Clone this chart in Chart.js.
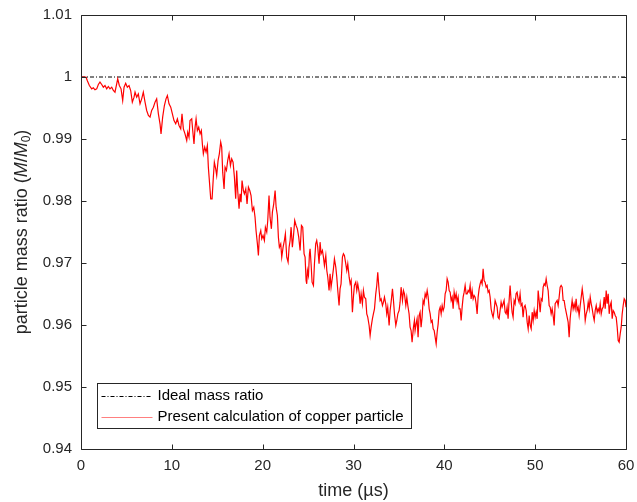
<!DOCTYPE html>
<html>
<head>
<meta charset="utf-8">
<script src="https://cdn.jsdelivr.net/npm/chart.js@4.4.1/dist/chart.umd.min.js"></script>
<style>
  html, body { margin: 0; padding: 0; background: #fff; }
  #wrap { width: 637px; height: 502px; }
</style>
</head>
<body>
<div id="wrap"><canvas id="massChart" width="637" height="502"></canvas></div>
<script>
// time (us) and particle mass ratio M/M0
var timeUs = [
  0, 0.55, 0.70, 0.92, 1.18, 1.36, 1.54, 1.73, 1.91, 2.09,
  2.28, 2.46, 2.64, 2.83, 3.01, 3.19, 3.38, 3.56, 3.74, 3.93,
  4.04, 4.22, 4.41, 4.59, 4.74, 4.92, 5.10, 5.29, 5.47, 5.65,
  5.84, 5.95, 6.13, 6.31, 6.50, 6.68, 6.86, 7.05, 7.23, 7.42,
  7.60, 7.78, 7.97, 8.15, 8.33, 8.52, 8.70, 8.81, 8.99, 9.18,
  9.36, 9.51, 9.69, 9.88, 10.06, 10.24, 10.43, 10.61, 10.79, 10.98,
  11.12, 11.27, 11.45, 11.64, 11.75, 11.89, 12.00, 12.19, 12.30, 12.44,
  12.56, 12.67, 12.81, 12.96, 13.11, 13.25, 13.36, 13.47, 13.62, 13.77,
  13.91, 14.02, 14.13, 14.28, 14.43, 14.57, 14.68, 14.83, 14.94, 15.09,
  15.23, 15.38, 15.49, 15.60, 15.75, 15.86, 16.01, 16.15, 16.30, 16.45,
  16.59, 16.74, 16.89, 17.03, 17.14, 17.25, 17.40, 17.51, 17.62, 17.73,
  17.88, 17.99, 18.14, 18.28, 18.43, 18.58, 18.72, 18.87, 19.02, 19.16,
  19.27, 19.42, 19.53, 19.64, 19.79, 19.90, 20.04, 20.19, 20.30, 20.45,
  20.56, 20.70, 20.81, 20.96, 21.07, 21.22, 21.37, 21.48, 21.62, 21.73,
  21.84, 21.99, 22.10, 22.25, 22.39, 22.50, 22.65, 22.80, 22.91, 23.02,
  23.13, 23.27, 23.38, 23.53, 23.68, 23.82, 23.97, 24.12, 24.27, 24.41,
  24.56, 24.67, 24.78, 24.85, 24.93, 25.04, 25.15, 25.22, 25.33, 25.44,
  25.59, 25.70, 25.84, 25.95, 26.06, 26.21, 26.32, 26.43, 26.58, 26.69,
  26.80, 26.95, 27.06, 27.17, 27.31, 27.42, 27.53, 27.68, 27.79, 27.90,
  28.05, 28.16, 28.27, 28.41, 28.52, 28.63, 28.78, 28.89, 29.00, 29.15,
  29.26, 29.37, 29.52, 29.63, 29.74, 29.88, 29.99, 30.10, 30.25, 30.36,
  30.47, 30.62, 30.73, 30.84, 30.98, 31.09, 31.20, 31.35, 31.46, 31.57,
  31.72, 31.83, 31.94, 32.08, 32.19, 32.31, 32.45, 32.56, 32.67, 32.82,
  32.93, 33.04, 33.19, 33.30, 33.41, 33.55, 33.66, 33.77, 33.92, 34.03,
  34.14, 34.29, 34.40, 34.51, 34.66, 34.77, 34.88, 35.02, 35.13, 35.24,
  35.39, 35.50, 35.61, 35.76, 35.87, 35.98, 36.12, 36.23, 36.34, 36.45,
  36.60, 36.71, 36.78, 36.89, 37.00, 37.11, 37.22, 37.33, 37.44, 37.55,
  37.66, 37.77, 37.89, 38.00, 38.11, 38.22, 38.33, 38.44, 38.55, 38.66,
  38.77, 38.88, 38.99, 39.10, 39.21, 39.32, 39.43, 39.54, 39.65, 39.76,
  39.87, 39.98, 40.09, 40.20, 40.31, 40.42, 40.53, 40.64, 40.75, 40.86,
  40.97, 41.08, 41.19, 41.30, 41.41, 41.52, 41.63, 41.74, 41.85, 41.96,
  42.07, 42.18, 42.29, 42.40, 42.51, 42.62, 42.73, 42.84, 42.95, 43.06,
  43.17, 43.28, 43.39, 43.50, 43.61, 43.72, 43.83, 43.94, 44.05, 44.16,
  44.27, 44.38, 44.49, 44.60, 44.71, 44.82, 44.93, 45.04, 45.15, 45.26,
  45.37, 45.48, 45.59, 45.70, 45.81, 45.92, 46.03, 46.14, 46.25, 46.36,
  46.47, 46.58, 46.69, 46.80, 46.91, 47.02, 47.13, 47.24, 47.35, 47.46,
  47.57, 47.68, 47.79, 47.90, 48.01, 48.12, 48.23, 48.34, 48.45, 48.56,
  48.67, 48.78, 48.89, 49.01, 49.12, 49.23, 49.34, 49.45, 49.56, 49.67,
  49.78, 49.89, 50.00, 50.11, 50.22, 50.33, 50.44, 50.55, 50.66, 50.77,
  50.88, 50.99, 51.10, 51.21, 51.32, 51.43, 51.54, 51.65, 51.76, 51.87,
  51.98, 52.09, 52.20, 52.31, 52.42, 52.53, 52.64, 52.75, 52.86, 52.97,
  53.08, 53.19, 53.30, 53.41, 53.52, 53.63, 53.74, 53.85, 53.96, 54.07,
  54.18, 54.29, 54.40, 54.51, 54.62, 54.73, 54.84, 54.96, 55.07, 55.18,
  55.29, 55.40, 55.51, 55.62, 55.73, 55.84, 55.95, 56.06, 56.17, 56.28,
  56.39, 56.50, 56.61, 56.72, 56.83, 56.94, 57.05, 57.16, 57.27, 57.38,
  57.49, 57.60, 57.71, 57.82, 57.93, 58.04, 58.15, 58.26, 58.37, 58.48,
  58.59, 58.70, 58.81, 58.92, 59.03, 59.14, 59.25, 59.36, 59.47, 59.58,
  59.69, 59.80, 59.91, 60.00
];
var massRatio = [
  1.0, 1.0, 0.9994, 0.99863, 0.99809, 0.99825, 0.99793, 0.99809, 0.99879, 0.99917,
  0.99879, 0.99836, 0.99863, 0.99809, 0.99847, 0.99809, 0.99836, 0.99782, 0.99755, 0.9989,
  0.9997, 0.99863, 0.99809, 0.99621, 0.99836, 0.999, 0.99836, 0.99863, 0.99782, 0.99594,
  0.99675, 0.99755, 0.99675, 0.99728, 0.99567, 0.99648, 0.99755, 0.99594, 0.9946, 0.99379,
  0.99352, 0.9946, 0.99513, 0.99594, 0.99648, 0.99406, 0.99245, 0.99083, 0.99352, 0.9954,
  0.99648, 0.99702, 0.99567, 0.99513, 0.99406, 0.99298, 0.99245, 0.99325, 0.99218, 0.99164,
  0.99406, 0.99164, 0.99083, 0.98976, 0.9911, 0.9903, 0.99298, 0.99325, 0.99137, 0.98922,
  0.99191, 0.99325, 0.99137, 0.99191, 0.99083, 0.99137, 0.98922, 0.98761, 0.98868, 0.98788,
  0.98895, 0.98546, 0.98331, 0.98035, 0.98035, 0.98384, 0.98626, 0.98519, 0.98411, 0.98653,
  0.98761, 0.98949, 0.98868, 0.98465, 0.98196, 0.98546, 0.98492, 0.98653, 0.98761, 0.98573,
  0.9868, 0.98626, 0.98384, 0.98035, 0.98492, 0.98169, 0.97874, 0.98116, 0.97981, 0.98331,
  0.98169, 0.98116, 0.98196, 0.97954, 0.98223, 0.98169, 0.98089, 0.97847, 0.979, 0.97739,
  0.97524, 0.97309, 0.97121, 0.97444, 0.97524, 0.9739, 0.97444, 0.97363, 0.97578, 0.97497,
  0.97685, 0.98089, 0.97739, 0.97551, 0.9782, 0.97954, 0.98169, 0.979, 0.97766, 0.97417,
  0.97255, 0.97309, 0.97094, 0.97255, 0.97363, 0.9747, 0.97094, 0.97013, 0.97255, 0.97363,
  0.97578, 0.97255, 0.97417, 0.97685, 0.97605, 0.97551, 0.97417, 0.97202, 0.97605, 0.97578,
  0.97148, 0.97094, 0.96718, 0.96664, 0.96879, 0.96798, 0.97148, 0.97229, 0.96987, 0.96691,
  0.96637, 0.96987, 0.97309, 0.97363, 0.97255, 0.96987, 0.97336, 0.97148, 0.97202, 0.97094,
  0.9696, 0.97121, 0.96879, 0.96771, 0.96556, 0.96825, 0.9661, 0.96771, 0.96906, 0.97067,
  0.96933, 0.96771, 0.96556, 0.96315, 0.96583, 0.96664, 0.97094, 0.97148, 0.97121, 0.96987,
  0.96879, 0.96987, 0.96771, 0.96664, 0.96718, 0.96207, 0.96449, 0.96637, 0.96691, 0.96556,
  0.96664, 0.96529, 0.96342, 0.96503, 0.96342, 0.96556, 0.96449, 0.96422, 0.9618, 0.96126,
  0.95992, 0.95831, 0.95965, 0.961, 0.9618, 0.96261, 0.96503, 0.96637, 0.96852, 0.96556,
  0.96395, 0.96422, 0.96315, 0.96368, 0.96449, 0.96342, 0.9618, 0.96288, 0.95992, 0.96234,
  0.96368, 0.96583, 0.96395, 0.9618, 0.95992, 0.96073, 0.9618, 0.96234, 0.96368, 0.9661,
  0.96395, 0.96556, 0.96503, 0.96315, 0.96449, 0.96315, 0.9618, 0.95965, 0.95911, 0.95723,
  0.95965, 0.96073, 0.95911, 0.96019, 0.961, 0.95804, 0.96153, 0.96207, 0.95965, 0.96126,
  0.96395, 0.96342, 0.96503, 0.96449, 0.96556, 0.96449, 0.96261, 0.9618, 0.96046, 0.96073,
  0.95938, 0.95911, 0.95804, 0.95696, 0.95884, 0.96019, 0.96234, 0.96288, 0.9618, 0.96315,
  0.96234, 0.96288, 0.96503, 0.96556, 0.96745, 0.96691, 0.96556, 0.96529, 0.96395, 0.96449,
  0.96261, 0.96529, 0.96422, 0.96503, 0.96368, 0.96449, 0.96261, 0.96261, 0.96073, 0.96288,
  0.96449, 0.96529, 0.96637, 0.96503, 0.96503, 0.96556, 0.96529, 0.96637, 0.96422, 0.96556,
  0.96422, 0.96476, 0.96449, 0.96342, 0.9618, 0.96449, 0.96583, 0.96664, 0.96718, 0.96664,
  0.96906, 0.96718, 0.96691, 0.9661, 0.96637, 0.96529, 0.96556, 0.96449, 0.96261, 0.9618,
  0.96126, 0.96234, 0.96395, 0.96342, 0.96288, 0.96126, 0.961, 0.96234, 0.96368, 0.96288,
  0.96342, 0.96395, 0.96207, 0.9618, 0.96288, 0.961, 0.96395, 0.96637, 0.96395, 0.96207,
  0.96126, 0.96395, 0.96342, 0.96503, 0.96529, 0.96422, 0.96368, 0.96503, 0.96315, 0.96342,
  0.96126, 0.96288, 0.96315, 0.96234, 0.96046, 0.95938, 0.96153, 0.95992, 0.95938, 0.96207,
  0.96073, 0.96234, 0.96126, 0.96207, 0.961, 0.96556, 0.96395, 0.96207, 0.96422, 0.96395,
  0.9661, 0.96664, 0.96637, 0.96745, 0.96637, 0.96556, 0.96315, 0.96288, 0.9618, 0.96261,
  0.96153, 0.95992, 0.96342, 0.96368, 0.96395, 0.96315, 0.96449, 0.9661, 0.96637, 0.9661,
  0.96395, 0.96395, 0.96288, 0.96207, 0.96126, 0.96046, 0.95804, 0.961, 0.96261, 0.96395,
  0.96261, 0.96342, 0.96261, 0.96422, 0.96234, 0.96288, 0.96153, 0.96315, 0.96449, 0.96583,
  0.96449, 0.96315, 0.96073, 0.9618, 0.96234, 0.96368, 0.96261, 0.96449, 0.96342, 0.96261,
  0.96153, 0.96073, 0.96234, 0.96315, 0.96207, 0.96261, 0.96207, 0.96342, 0.9618, 0.96261,
  0.96288, 0.96449, 0.96261, 0.96556, 0.96342, 0.96503, 0.9618, 0.96315, 0.96368, 0.961,
  0.96234, 0.96207, 0.96153, 0.96126, 0.95965, 0.9575, 0.95723, 0.95858, 0.95965, 0.9618,
  0.96315, 0.96422, 0.96395, 0.96288
];
var idealTime = [0, 60];
var idealRatio = [1, 1];
var xTickValues = [0, 10, 20, 30, 40, 50, 60];
var yTickValues = [0.94, 0.95, 0.96, 0.97, 0.98, 0.99, 1.00, 1.01];
var seriesNames = ['Ideal mass ratio', 'Present calculation of copper particle'];

var FONT = '"Liberation Sans", Arial, Helvetica, sans-serif';
var AXIS_COLOR = '#262626';

function toPoints(xs, ys) {
  var n = Math.min(xs.length, ys.length);
  var pts = [];
  for (var i = 0; i < n; i++) pts.push({x: xs[i], y: ys[i]});
  return pts;
}

/* box round the axes and inward tick marks, matlab style */
var framePlugin = {
  id: 'frame',
  afterDatasetsDraw: function(chart) {
    var ctx = chart.ctx, a = chart.chartArea;
    var xs = chart.scales.x, ys = chart.scales.y;
    var L = Math.round(a.left) + 0.5, R = Math.round(a.right) + 0.5;
    var T = Math.round(a.top) + 0.5, B = Math.round(a.bottom) + 0.5;
    ctx.save();
    ctx.strokeStyle = AXIS_COLOR;
    ctx.lineWidth = 1;
    ctx.beginPath();
    ctx.rect(L, T, R - L, B - T);
    xTickValues.forEach(function(v) {
      var px = Math.round(xs.getPixelForValue(v)) + 0.5;
      ctx.moveTo(px, B); ctx.lineTo(px, B - 5);
      ctx.moveTo(px, T); ctx.lineTo(px, T + 5);
    });
    yTickValues.forEach(function(v) {
      var py = Math.round(ys.getPixelForValue(v)) + 0.5;
      ctx.moveTo(L, py); ctx.lineTo(L + 5, py);
      ctx.moveTo(R, py); ctx.lineTo(R - 5, py);
    });
    ctx.stroke();
    ctx.restore();
  }
};

/* legend box sitting inside the axes, bottom left */
var legendPlugin = {
  id: 'insideLegend',
  afterDraw: function(chart) {
    var ctx = chart.ctx, a = chart.chartArea;
    var bx = Math.round(a.left) + 16.5, by = Math.round(a.bottom) - 65.5;
    var bw = 314, bh = 45;
    ctx.save();
    ctx.fillStyle = '#fff';
    ctx.fillRect(bx, by, bw, bh);
    ctx.strokeStyle = AXIS_COLOR;
    ctx.lineWidth = 1;
    ctx.strokeRect(bx, by, bw, bh);
    ctx.font = '15px ' + FONT;
    ctx.textBaseline = 'middle';
    ctx.fillStyle = '#000';
    var rows = [by + 12, by + 33];
    // ideal line sample
    ctx.strokeStyle = '#000';
    ctx.setLineDash([4, 2, 1, 2]);
    ctx.beginPath();
    ctx.moveTo(bx + 4, Math.round(rows[0]) + 0.5);
    ctx.lineTo(bx + 55, Math.round(rows[0]) + 0.5);
    ctx.stroke();
    ctx.setLineDash([]);
    // calculation sample
    ctx.strokeStyle = 'rgba(255,0,0,0.5)';
    ctx.beginPath();
    ctx.moveTo(bx + 4, Math.round(rows[1]) + 0.5);
    ctx.lineTo(bx + 55, Math.round(rows[1]) + 0.5);
    ctx.stroke();
    ctx.fillText(seriesNames[0], bx + 60, rows[0]);
    ctx.fillText(seriesNames[1], bx + 60, rows[1]);
    ctx.restore();
  }
};

/* y label with italic M and subscript 0 */
var yTitlePlugin = {
  id: 'yTitle',
  afterDraw: function(chart) {
    var ctx = chart.ctx, a = chart.chartArea;
    var normal = '18px ' + FONT, italic = 'italic 18px ' + FONT, small = '12px ' + FONT;
    var parts = [
      {t: 'particle mass ratio (', f: normal, dy: 0},
      {t: 'M', f: italic, dy: 0},
      {t: '/', f: normal, dy: 0},
      {t: 'M', f: italic, dy: 0},
      {t: '0', f: small, dy: 5},
      {t: ')', f: normal, dy: 0}
    ];
    ctx.save();
    var total = 0;
    parts.forEach(function(p) { ctx.font = p.f; p.w = ctx.measureText(p.t).width; total += p.w; });
    ctx.translate(22, (a.top + a.bottom) / 2);
    ctx.rotate(-Math.PI / 2);
    ctx.fillStyle = AXIS_COLOR;
    ctx.textBaseline = 'middle';
    var x = -total / 2;
    parts.forEach(function(p) {
      ctx.font = p.f;
      ctx.fillText(p.t, x, p.dy);
      x += p.w;
    });
    ctx.restore();
  }
};

var ctx = document.getElementById('massChart').getContext('2d');
var massChart = new Chart(ctx, {
  type: 'line',
  data: {
    datasets: [{
      label: seriesNames[1],
      data: toPoints(timeUs, massRatio),
      borderColor: '#ff0000',
      borderWidth: 1.2,
      pointRadius: 0,
      tension: 0,
      fill: false,
      order: 0
    }, {
      label: seriesNames[0],
      data: toPoints(idealTime, idealRatio),
      borderColor: '#000000',
      borderWidth: 1,
      borderDash: [4, 2, 1, 2],
      pointRadius: 0,
      fill: false,
      order: 1
    }]
  },
  options: {
    responsive: false,
    animation: false,
    devicePixelRatio: 1,
    layout: { padding: { left: 0, right: 11, top: 15, bottom: 0 } },
    plugins: {
      legend: { display: false },
      tooltip: { enabled: false }
    },
    scales: {
      x: {
        type: 'linear',
        min: 0,
        max: 60,
        afterBuildTicks: function(s) { s.ticks = xTickValues.map(function(v) { return {value: v}; }); },
        afterFit: function(s) { s.height = 53; s.paddingLeft = 0; s.paddingRight = 0; },
        grid: { display: false, drawTicks: false },
        border: { display: false },
        ticks: {
          padding: 8,
          maxRotation: 0,
          color: AXIS_COLOR,
          font: { family: FONT, size: 15 },
          callback: function(v) { return String(v); }
        },
        title: {
          display: true,
          text: 'time (\u00b5s)',
          color: AXIS_COLOR,
          font: { family: FONT, size: 18 },
          padding: { top: 0, bottom: 0 }
        }
      },
      y: {
        type: 'linear',
        min: 0.94,
        max: 1.01,
        afterBuildTicks: function(s) { s.ticks = yTickValues.map(function(v) { return {value: v}; }); },
        afterFit: function(s) { s.width = 81; s.paddingTop = 0; s.paddingBottom = 0; },
        grid: { display: false, drawTicks: false },
        border: { display: false },
        ticks: {
          padding: 9,
          color: AXIS_COLOR,
          font: { family: FONT, size: 15 },
          callback: function(v) { return String(parseFloat(Number(v).toFixed(2))); }
        }
      }
    }
  },
  plugins: [framePlugin, legendPlugin, yTitlePlugin]
});
</script>
</body>
</html>
